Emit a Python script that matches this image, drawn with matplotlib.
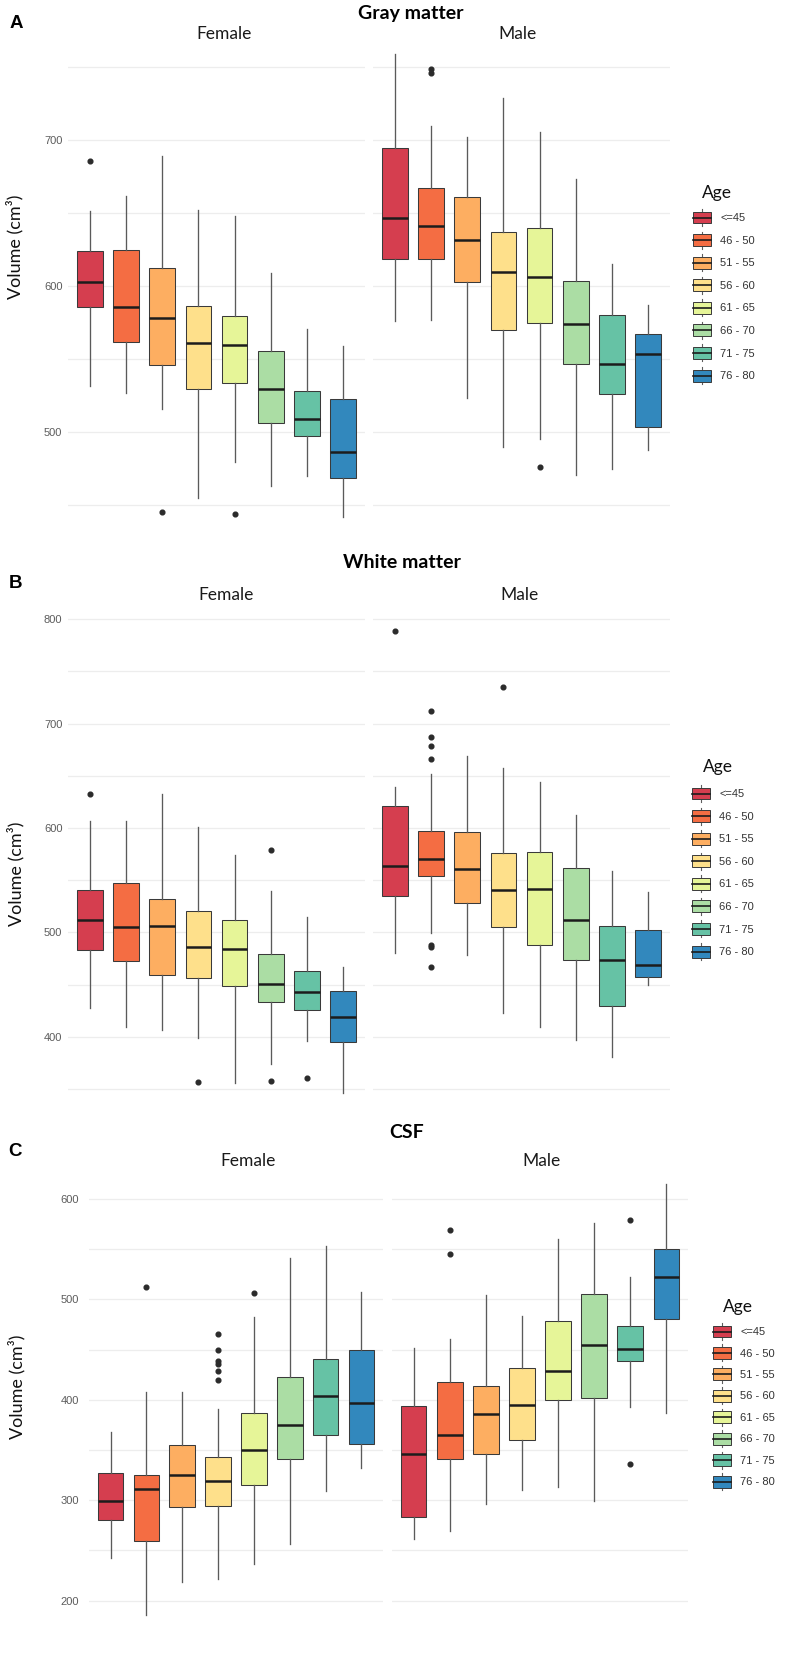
import matplotlib
matplotlib.use("Agg")
import matplotlib.pyplot as plt
from matplotlib.patches import Rectangle, Patch
from matplotlib.lines import Line2D
from matplotlib.legend_handler import HandlerBase

# ---------------- data ----------------
ages = ['<=45', '46 - 50', '51 - 55', '56 - 60', '61 - 65', '66 - 70', '71 - 75', '76 - 80']
colors = ['#D53E4F', '#F46D43', '#FDAE61', '#FEE08B', '#E6F598', '#ABDDA4', '#66C2A5', '#3288BD']
sexes = ['Female', 'Male']

# Gray matter
gm_f_med = [602.7, 585.4, 578.3, 560.7, 559.8, 529.7, 508.9, 486.3]
gm_f_q1 = [585.6, 561.6, 545.7, 529.2, 533.6, 506.0, 497.5, 468.3]
gm_f_q3 = [624.2, 624.7, 612.5, 586.5, 579.5, 555.5, 528.3, 522.4]
gm_f_lo = [531.7, 526.5, 515.5, 454.6, 479.3, 462.8, 470.1, 441.8]
gm_f_hi = [651.4, 661.6, 689.0, 652.3, 648.0, 609.1, 570.5, 558.9]
gm_f_out = [[685.8], [], [445.2], [], [444.0], [], [], []]

gm_m_med = [646.6, 640.9, 631.5, 609.4, 606.4, 573.7, 546.3, 553.4]
gm_m_q1 = [618.7, 618.7, 603.0, 570.1, 574.9, 546.3, 526.3, 503.6]
gm_m_q3 = [694.7, 667.4, 660.7, 636.8, 640.0, 603.4, 579.9, 567.4]
gm_m_lo = [576.0, 576.7, 523.1, 489.7, 495.4, 470.8, 474.7, 487.8]
gm_m_hi = [758.7, 709.8, 702.3, 729.0, 705.5, 673.5, 615.3, 587.2]
gm_m_out = [[], [748.4, 746.1], [], [], [476.3], [], [], []]

# White matter
wm_f_med = [511.6, 505.2, 506.5, 486.2, 484.2, 450.9, 443.4, 418.8]
wm_f_q1 = [483.3, 472.4, 459.3, 456.5, 449.1, 433.7, 426.1, 395.5]
wm_f_q3 = [540.3, 547.3, 532.3, 520.6, 511.9, 479.6, 462.8, 444.3]
wm_f_lo = [427.8, 409.6, 407.0, 399.0, 356.0, 373.8, 396.2, 346.4]
wm_f_hi = [606.3, 607.0, 632.2, 600.6, 573.8, 539.3, 514.6, 467.0]
wm_f_out = [[632.2], [], [], [356.6], [], [578.6, 357.5], [360.4], []]

wm_m_med = [563.6, 570.2, 560.6, 540.3, 541.9, 512.2, 474.0, 468.6]
wm_m_q1 = [534.6, 554.0, 528.4, 505.0, 488.3, 473.4, 429.4, 457.1]
wm_m_q3 = [621.3, 597.0, 596.4, 575.7, 577.3, 561.3, 506.2, 502.6]
wm_m_lo = [480.4, 499.2, 478.4, 423.0, 409.6, 396.5, 381.0, 450.0]
wm_m_hi = [639.8, 652.2, 669.0, 657.9, 644.0, 612.9, 558.7, 538.8]
wm_m_out = [[789.2], [712.6, 687.4, 678.5, 666.4, 488.3, 486.5, 467.3], [], [735.2], [], [], [], []]

# CSF
csf_f_med = [299.2, 311.5, 325.1, 319.5, 350.0, 374.6, 403.8, 397.1]
csf_f_q1 = [280.6, 259.7, 293.2, 293.9, 315.1, 341.4, 364.6, 355.7]
csf_f_q3 = [326.8, 325.4, 355.3, 343.0, 387.2, 423.0, 440.6, 449.3]
csf_f_lo = [242.7, 185.7, 218.5, 221.8, 236.5, 256.4, 309.0, 332.1]
csf_f_hi = [368.2, 407.8, 407.8, 391.2, 482.2, 541.5, 552.9, 507.7]
csf_f_out = [[], [512.0], [], [465.2, 449.6, 438.6, 436.0, 428.4, 419.7], [506.4], [], [], []]

csf_m_med = [346.0, 364.9, 386.2, 394.8, 429.0, 454.9, 450.9, 522.3]
csf_m_q1 = [282.9, 340.7, 346.0, 360.0, 399.5, 401.8, 439.0, 480.2]
csf_m_q3 = [393.8, 418.0, 413.4, 432.0, 478.5, 505.7, 473.8, 550.5]
csf_m_lo = [261.0, 269.6, 295.9, 309.9, 312.8, 298.9, 392.8, 386.6]
csf_m_hi = [451.3, 460.3, 504.7, 483.2, 560.5, 575.8, 522.3, 614.9]
csf_m_out = [[], [569.1, 544.9], [], [], [], [], [579.1, 336.4], []]

panels = [
    dict(letter='A', title='Gray matter',
         f=(gm_f_med, gm_f_q1, gm_f_q3, gm_f_lo, gm_f_hi, gm_f_out),
         m=(gm_m_med, gm_m_q1, gm_m_q3, gm_m_lo, gm_m_hi, gm_m_out)),
    dict(letter='B', title='White matter',
         f=(wm_f_med, wm_f_q1, wm_f_q3, wm_f_lo, wm_f_hi, wm_f_out),
         m=(wm_m_med, wm_m_q1, wm_m_q3, wm_m_lo, wm_m_hi, wm_m_out)),
    dict(letter='C', title='CSF',
         f=(csf_f_med, csf_f_q1, csf_f_q3, csf_f_lo, csf_f_hi, csf_f_out),
         m=(csf_m_med, csf_m_q1, csf_m_q3, csf_m_lo, csf_m_hi, csf_m_out)),
]

# ---------------- layout (pixels) ----------------
W, H = 785, 1653
layout = [
    dict(fx=(68, 365), mx=(373, 670), y=(45, 525), ylim=(436.3, 765.1),
         major=[500, 600, 700], minor=[450, 550, 650, 750],
         letter_xy=(16, 23), title_xy=(411, 13), strip_y=34, strip_fx=224, strip_mx=517,
         ylab_xy=(15, 247), leg_x=693, leg_y=209, age_xy=(702, 193), lspace=0.5),
    dict(fx=(68, 365), mx=(373, 670), y=(605, 1100), ylim=(339.5, 813.7),
         major=[400, 500, 600, 700, 800], minor=[350, 450, 550, 650, 750],
         letter_xy=(15, 583), title_xy=(402, 563), strip_y=595, strip_fx=226, strip_mx=519,
         ylab_xy=(16, 874), leg_x=692, leg_y=785, age_xy=(703, 767), lspace=0.5),
    dict(fx=(89, 383), mx=(392, 688), y=(1175, 1625), ylim=(175.7, 623.9),
         major=[200, 300, 400, 500, 600], minor=[250, 350, 450, 550],
         letter_xy=(15, 1152), title_xy=(407, 1132), strip_y=1161, strip_fx=248, strip_mx=541,
         ylab_xy=(17, 1387), leg_x=713, leg_y=1323, age_xy=(723, 1307), lspace=0.4),
]

CAL = ['Lato', 'DejaVu Sans']
ARI = ['Liberation Sans', 'DejaVu Sans']

fig = plt.figure(figsize=(W / 100, H / 100), dpi=100)
fig.patch.set_facecolor('white')


def fx(x):
    return x / W


def fy(y):
    return 1 - y / H


def add_ax(xr, yr):
    return fig.add_axes([fx(xr[0]), fy(yr[1]), (xr[1] - xr[0]) / W, (yr[1] - yr[0]) / H])


def draw_box(ax, data, lay, show_labels):
    med, q1, q3, lo, hi, out = data
    stats = []
    for i in range(len(ages)):
        stats.append(dict(med=med[i], q1=q1[i], q3=q3[i], whislo=lo[i], whishi=hi[i],
                          fliers=out[i], label=ages[i]))
    bp = ax.bxp(stats, positions=list(range(1, len(ages) + 1)), widths=0.71,
                patch_artist=True, showcaps=False, showfliers=True,
                boxprops=dict(edgecolor='#3a3a3a', linewidth=0.75),
                whiskerprops=dict(color='#5a5a5a', linewidth=0.95),
                medianprops=dict(color='#1c1c1c', linewidth=1.8),
                flierprops=dict(marker='o', markersize=3.4, markerfacecolor='#2b2b2b',
                                markeredgecolor='#2b2b2b', linestyle='none'),
                zorder=3)
    for patch, c in zip(bp['boxes'], colors):
        patch.set_facecolor(c)
    ax.set_xlim(0.4, len(ages) + 0.6)
    ax.set_ylim(*lay['ylim'])
    ax.set_yticks(lay['major'])
    ax.set_yticks(lay['minor'], minor=True)
    ax.grid(axis='y', which='both', color='#ededed', linewidth=0.9)
    ax.set_axisbelow(True)
    ax.set_xticks([])
    for s in ax.spines.values():
        s.set_visible(False)
    ax.tick_params(axis='y', which='both', length=0, labelsize=8, labelcolor='#5c5c5c',
                   pad=4 if lay['fx'][0] < 80 else 7)
    for lab in ax.get_yticklabels():
        lab.set_family(ARI)
    if not show_labels:
        ax.tick_params(axis='y', labelleft=False)


class BoxKey(HandlerBase):
    def create_artists(self, legend, orig_handle, xdescent, ydescent, width, height, fontsize, trans):
        fc = orig_handle.get_facecolor()
        x0, y0 = -xdescent, -ydescent
        bh = height * 0.7
        by = y0 + (height - bh) / 2
        wl = Line2D([x0 + width / 2] * 2, [y0, y0 + height], color='#5e5e5e', lw=0.8, transform=trans)
        r = Rectangle((x0, by), width, bh, facecolor=fc, edgecolor='#3a3a3a', lw=0.7, transform=trans)
        ml = Line2D([x0, x0 + width], [y0 + height / 2] * 2, color='#1c1c1c', lw=1.2, transform=trans)
        return [wl, r, ml]


for p, lay in zip(panels, layout):
    axf = add_ax(lay['fx'], lay['y'])
    axm = add_ax(lay['mx'], lay['y'])
    draw_box(axf, p['f'], lay, True)
    draw_box(axm, p['m'], lay, False)

    fig.text(fx(lay['letter_xy'][0]), fy(lay['letter_xy'][1]), p['letter'], ha='center', va='center',
             fontsize=13.5, fontweight='bold', family=ARI)
    fig.text(fx(lay['title_xy'][0]), fy(lay['title_xy'][1]), p['title'], ha='center', va='center',
             fontsize=14, fontweight='bold', family=CAL)
    fig.text(fx(lay['strip_fx']), fy(lay['strip_y']), sexes[0], ha='center', va='center',
             fontsize=12.5, family=CAL, color='#1a1a1a')
    fig.text(fx(lay['strip_mx']), fy(lay['strip_y']), sexes[1], ha='center', va='center',
             fontsize=12.5, family=CAL, color='#1a1a1a')
    fig.text(fx(lay['ylab_xy'][0]), fy(lay['ylab_xy'][1]), 'Volume (cm³)', ha='center', va='center',
             rotation=90, fontsize=13, family=CAL, color='#111111')
    fig.text(fx(lay['age_xy'][0]), fy(lay['age_xy'][1]), 'Age', ha='left', va='center',
             fontsize=12.5, family=CAL, color='#111111')

    handles = [Patch(facecolor=c) for c in colors]
    leg = fig.legend(handles, ages, loc='upper left',
                     bbox_to_anchor=(fx(lay['leg_x']), fy(lay['leg_y'])),
                     frameon=False, borderpad=0, borderaxespad=0,
                     handlelength=1.6, handleheight=1.98, handletextpad=0.85,
                     labelspacing=lay['lspace'],
                     prop=dict(family=ARI, size=8),
                     handler_map={Patch: BoxKey()})
    for t in leg.get_texts():
        t.set_color('#333333')

fig.savefig('out.png', dpi=100, facecolor='white')
